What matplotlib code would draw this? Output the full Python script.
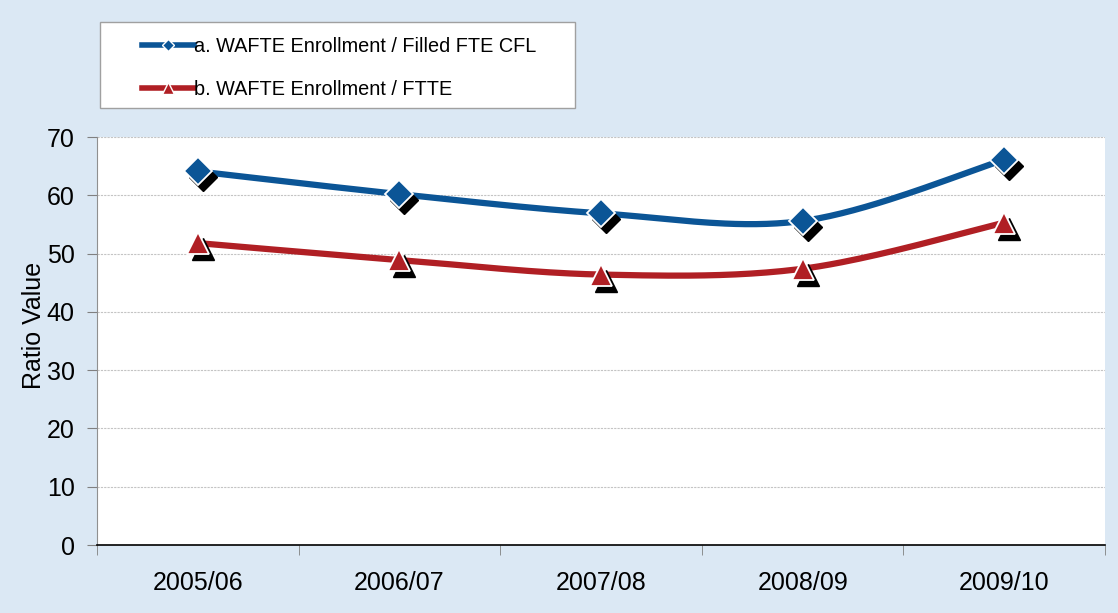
import numpy as np
import matplotlib
matplotlib.use("Agg")
import matplotlib.pyplot as plt
from matplotlib.patches import Rectangle
from matplotlib.lines import Line2D
from matplotlib.transforms import offset_copy

plt.rcParams['font.family'] = ['Liberation Sans', 'DejaVu Sans']

years = ['2005/06', '2006/07', '2007/08', '2008/09', '2009/10']
cfl_ratio = [64.1, 60.2, 56.9, 55.6, 66.1]     # a. WAFTE Enrollment / Filled FTE CFL
ftte_ratio = [51.8, 48.9, 46.4, 47.4, 55.3]    # b. WAFTE Enrollment / FTTE
labels = ['a. WAFTE Enrollment / Filled FTE CFL', 'b. WAFTE Enrollment / FTTE']

blue = '#0b5596'
red = '#b01f24'


def smooth(xs, ys, n=40):
    # excel-like smoothed line (catmull-rom bezier)
    xs = np.asarray(xs, float)
    ys = np.asarray(ys, float)
    px, py = [], []
    for i in range(len(xs) - 1):
        x0, y0 = (xs[i - 1], ys[i - 1]) if i > 0 else (xs[i], ys[i])
        x3, y3 = (xs[i + 2], ys[i + 2]) if i + 2 < len(xs) else (xs[i + 1], ys[i + 1])
        x1, y1 = xs[i], ys[i]
        x2, y2 = xs[i + 1], ys[i + 1]
        c1x, c1y = x1 + (x2 - x0) / 6, y1 + (y2 - y0) / 6
        c2x, c2y = x2 - (x3 - x1) / 6, y2 - (y3 - y1) / 6
        t = np.linspace(0, 1, n)
        bx = (1-t)**3*x1 + 3*(1-t)**2*t*c1x + 3*(1-t)*t**2*c2x + t**3*x2
        by = (1-t)**3*y1 + 3*(1-t)**2*t*c1y + 3*(1-t)*t**2*c2y + t**3*y2
        px.extend(bx)
        py.extend(by)
    return np.array(px), np.array(py)


fig = plt.figure(figsize=(11.18, 6.13), dpi=100)
fig.patch.set_facecolor('#dbe8f4')
ax = fig.add_axes([0.0868, 0.1109, 0.9016, 0.6656])
ax.set_facecolor('white')

x = np.arange(len(years))
shadow = offset_copy(ax.transData, fig=fig, x=5, y=-6, units='dots')

for vals, col, mk, ms in [(cfl_ratio, blue, 'D', 14), (ftte_ratio, red, '^', 16)]:
    sx, sy = smooth(x, vals)
    ax.plot(sx, sy, color=col, lw=4.5, solid_capstyle='round', zorder=3)
    ax.plot(x, vals, ls='none', marker=mk, ms=ms, color='black', mec='black', zorder=4, transform=shadow)
    ax.plot(x, vals, ls='none', marker=mk, ms=ms, color=col, mec='white', mew=1.3, zorder=5)

ax.set_xlim(-0.5, 4.5)
ax.set_ylim(0, 70)
ax.set_yticks(range(0, 71, 10))
ax.set_xticks(x)
ax.set_xticklabels(years)
ax.set_xticks(np.arange(-0.5, 4.6, 1), minor=True)
ax.tick_params(axis='x', which='major', length=0, labelsize=18, pad=19)
ax.tick_params(axis='x', which='minor', length=7, color='#808080', direction='out')
ax.tick_params(axis='y', length=7, color='#808080', labelsize=18, pad=9)
ax.grid(axis='y', color='#c4c4c4', lw=0.8, ls=(0, (2, 1)))
ax.set_axisbelow(True)
for s in ['top', 'right']:
    ax.spines[s].set_visible(False)
ax.spines['left'].set_color('#909090')
ax.spines['bottom'].set_color('black')
ax.spines['bottom'].set_linewidth(1.2)
ax.set_ylabel('Ratio Value', fontsize=18)
ax.yaxis.set_label_coords(-0.051, 0.537)

# legend box
fig.patches.append(Rectangle((100 / 1118, 1 - 108 / 613), 475 / 1118, 86 / 613,
                             transform=fig.transFigure, facecolor='white',
                             edgecolor='#a0a0a0', lw=1, zorder=1))
handles = [Line2D([], [], color=blue, lw=4, marker='D', ms=6, mec='white', mfc=blue),
           Line2D([], [], color=red, lw=4, marker='^', ms=8, mec='white', mfc=red)]
leg = fig.legend(handles, labels, loc='upper left', bbox_to_anchor=(134 / 1118, 1 - 29 / 613),
                 frameon=False, fontsize=14.3, handlelength=2.6, handletextpad=0.0,
                 labelspacing=1.2, borderaxespad=0)

fig.savefig('out.png', dpi=100, facecolor=fig.get_facecolor())
